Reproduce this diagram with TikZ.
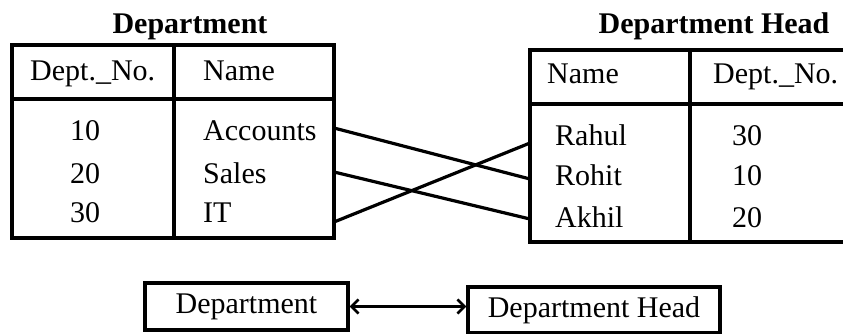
\documentclass[tikz,border=0pt]{standalone}
\usepackage{fontspec}
\setmainfont{Liberation Serif}
\usetikzlibrary{arrows.meta}
\begin{document}
\begin{tikzpicture}[x=1pt,y=-1pt,
  txt/.style={anchor=base west,inner sep=0pt,font=\fontsize{30}{36}\selectfont},
  ttl/.style={anchor=base,inner sep=0pt,font=\fontsize{30}{36}\selectfont\bfseries},
  border/.style={line width=3.4pt},
  link/.style={line width=3.2pt},
  ebox/.style={draw,line width=3.4pt,inner sep=0pt,font=\fontsize{30}{36}\selectfont}]
\useasboundingbox (0,0) rectangle (843,333);
\clip (0,0) rectangle (843,333);
% Left table
\node[ttl] (t1) at (190,33) {Department};
\draw[border] (12,45) rectangle (334,238);
\draw[border] (12,99) -- (334,99);
\draw[border] (174,45) -- (174,238);
\node[txt] (h1) at (30,80) {Dept.\_No.};
\node[txt] (h2) at (203,80) {Name};
\node[txt] (n10) at (70,140) {10};
\node[txt] (n20) at (70,183) {20};
\node[txt] (n30) at (70,222) {30};
\node[txt] (acc) at (203,140) {Accounts};
\node[txt] (sal) at (203,183) {Sales};
\node[txt] (it) at (203,222) {IT};
% Right table
\node[ttl] (t2) at (714,33) {Department Head};
\draw[border] (530,50) rectangle (852,242);
\draw[border] (530,104) -- (852,104);
\draw[border] (690,50) -- (690,242);
\node[txt] (h3) at (547,83) {Name};
\node[txt] (h4) at (713,83) {Dept.\_No.};
\node[txt] (rah) at (555,145) {Rahul};
\node[txt] (roh) at (555,185) {Rohit};
\node[txt] (akh) at (555,227) {Akhil};
\node[txt] (m30) at (732,145) {30};
\node[txt] (m10) at (732,185) {10};
\node[txt] (m20) at (732,227) {20};
% connectors
\coordinate (a1) at (334,128);
\coordinate (a2) at (334,172);
\coordinate (a3) at (334,222);
\coordinate (b1) at (530,143);
\coordinate (b2) at (530,179);
\coordinate (b3) at (530,219);
\draw[link] (a1) -- (b2);
\draw[link] (a2) -- (b3);
\draw[link] (a3) -- (b1);
% bottom
\node[ebox,minimum width=203pt,minimum height=47pt] (dep) at (246.5,306.5) {Department};
\node[ebox,minimum width=252pt,minimum height=46pt] (dh) at (594,310) {Department Head};
\draw[line width=2.6pt,{Straight Barb[length=7pt,width=14pt]}-{Straight Barb[length=7pt,width=14pt]}]
  (dep.east) -- (dh.west |- dep.east);
\end{tikzpicture}
\end{document}
